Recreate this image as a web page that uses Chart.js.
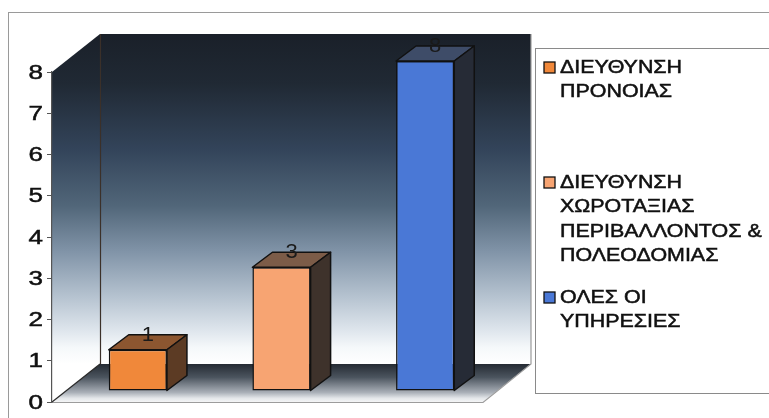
<!DOCTYPE html>
<html>
<head>
<meta charset="utf-8">
<script src="https://cdn.jsdelivr.net/npm/chart.js@4.4.1/dist/chart.umd.min.js"></script>
<style>
  html, body { margin: 0; padding: 0; background: #fff; }
  #wrap { width: 769px; height: 418px; }
</style>
</head>
<body>
<div id="wrap"><canvas id="chart" width="769" height="418"></canvas></div>
<script>
// Data
const seriesNames = [
  ['ΔΙΕΥΘΥΝΣΗ', 'ΠΡΟΝΟΙΑΣ'],
  ['ΔΙΕΥΘΥΝΣΗ', 'ΧΩΡΟΤΑΞΙΑΣ', 'ΠΕΡΙΒΑΛΛΟΝΤΟΣ &', 'ΠΟΛΕΟΔΟΜΙΑΣ'],
  ['ΟΛΕΣ ΟΙ', 'ΥΠΗΡΕΣΙΕΣ']
];
const seriesValues = [1, 3, 8];
const yMin = 0;
const yMax = 8;

// Bar face colours (front / top / side)
const frontColors = ['#f0883a', '#f7a472', '#4a78d6'];
const topColors = ['#8c5630', '#7c5c48', '#3e4c68'];
const sideColors = ['#5c3b24', '#3e322b', '#262b36'];

const FONT = "'Liberation Sans', Arial, sans-serif";
const WALL_DEPTH = { x: 48, y: 38 };
const BAR_SHIFT = { x: 14, y: -11 };
const BAR_DEPTH = { x: 20, y: 15 };

function poly(ctx, pts) {
  ctx.beginPath();
  ctx.moveTo(pts[0][0], pts[0][1]);
  for (let i = 1; i < pts.length; i++) ctx.lineTo(pts[i][0], pts[i][1]);
  ctx.closePath();
}

// text drawn a little wider (and heavier) than the plain font
function wideText(ctx, text, x, y, sx, weight) {
  ctx.save();
  ctx.translate(x, y);
  ctx.scale(sx, 1);
  ctx.fillText(text, 0, 0);
  if (weight) {
    ctx.strokeStyle = ctx.fillStyle;
    ctx.lineWidth = weight;
    ctx.strokeText(text, 0, 0);
  }
  ctx.restore();
}

// ===== Frame, walls and floor =====
const walls3d = {
  id: 'walls3d',
  beforeDraw(chart) {
    const { ctx, chartArea: a } = chart;
    const L = a.left, R = a.right, T = a.top, B = a.bottom;
    const dx = WALL_DEPTH.x, dy = WALL_DEPTH.y;

    ctx.save();
    // outer frame
    ctx.strokeStyle = '#9a9a9a';
    ctx.lineWidth = 1;
    ctx.strokeRect(8.5, 12.5, chart.width, chart.height);

    const grad = ctx.createLinearGradient(0, T - dy, 0, B - dy);
    grad.addColorStop(0, '#1a2029');
    grad.addColorStop(0.15, '#202934');
    grad.addColorStop(0.35, '#33445a');
    grad.addColorStop(0.52, '#516679');
    grad.addColorStop(0.66, '#8194a8');
    grad.addColorStop(0.8, '#b7c4d1');
    grad.addColorStop(0.9, '#dfe6ed');
    grad.addColorStop(0.95, '#f5f8fa');
    grad.addColorStop(1, '#ffffff');

    // back wall
    ctx.fillStyle = grad;
    ctx.fillRect(L + dx, T - dy, R - L, B - T);
    // left wall
    poly(ctx, [[L, T], [L + dx, T - dy], [L + dx, B - dy], [L, B]]);
    ctx.fill();

    // floor
    const fg = ctx.createLinearGradient(0, B - dy, 0, B);
    fg.addColorStop(0, '#252b33');
    fg.addColorStop(0.35, '#4b545e');
    fg.addColorStop(0.75, '#aab0b8');
    fg.addColorStop(0.9, '#e4e7ea');
    fg.addColorStop(1, '#f4f5f6');
    ctx.fillStyle = fg;
    poly(ctx, [[L, B], [R, B], [R + dx, B - dy], [L + dx, B - dy]]);
    ctx.fill();

    // edges
    ctx.lineWidth = 1.2;
    ctx.strokeStyle = '#3b3029';
    ctx.beginPath();
    ctx.moveTo(L + dx + 0.5, T - dy);
    ctx.lineTo(L + dx + 0.5, B - dy);
    ctx.stroke();
    ctx.strokeStyle = '#9c9c9c';
    ctx.beginPath();
    ctx.moveTo(L, B + 0.5);
    ctx.lineTo(R, B + 0.5);
    ctx.lineTo(R + dx, B - dy);
    ctx.lineTo(R + dx, T - dy);
    ctx.stroke();
    ctx.strokeStyle = '#2a2a2a';
    ctx.beginPath();
    ctx.moveTo(L, B);
    ctx.lineTo(L + dx, B - dy);
    ctx.stroke();
    ctx.restore();
  },
  beforeDatasetsDraw(chart) {
    // bars stand in the middle of the floor depth
    chart.ctx.save();
    chart.ctx.translate(BAR_SHIFT.x, BAR_SHIFT.y);
  },
  afterDatasetsDraw(chart) {
    const ctx = chart.ctx;
    const ddx = BAR_DEPTH.x, ddy = BAR_DEPTH.y;
    chart.data.datasets.forEach((ds, i) => {
      const bar = chart.getDatasetMeta(i).data[0];
      const { x, y, base, width } = bar.getProps(['x', 'y', 'base', 'width'], true);
      const l = x - width / 2, r = x + width / 2;
      ctx.lineWidth = 1.5;
      ctx.strokeStyle = '#111';
      ctx.lineJoin = 'round';
      // top face
      poly(ctx, [[l, y], [r, y], [r + ddx, y - ddy], [l + ddx, y - ddy]]);
      ctx.fillStyle = topColors[i];
      ctx.fill();
      ctx.stroke();
      // side face
      poly(ctx, [[r, y], [r + ddx, y - ddy], [r + ddx, base - ddy], [r, base]]);
      ctx.fillStyle = sideColors[i];
      ctx.fill();
      ctx.stroke();
      // value label
      ctx.fillStyle = '#1a1a1a';
      ctx.font = '20px ' + FONT;
      ctx.textAlign = 'center';
      ctx.textBaseline = 'bottom';
      wideText(ctx, String(ds.data[0]), x + ddx / 2, y - ddy / 2 + 3, 1.1);
    });
    ctx.restore();
  }
};

// ===== Y tick labels =====
const yLabels = {
  id: 'yLabels',
  afterDraw(chart) {
    const ctx = chart.ctx;
    const scale = chart.scales.y;
    ctx.save();
    ctx.fillStyle = '#111';
    ctx.font = '20px ' + FONT;
    ctx.textAlign = 'right';
    ctx.textBaseline = 'middle';
    scale.ticks.forEach(t => {
      wideText(ctx, String(t.value), 43, scale.getPixelForValue(t.value) + 1, 1.3, 0.5);
    });
    ctx.restore();
  }
};

// ===== Legend box on the right =====
const sideLegend = {
  id: 'sideLegend',
  afterDraw(chart) {
    const ctx = chart.ctx;
    const left = 535, top = 48, bottom = 393;
    const slot = (bottom - top) / seriesNames.length;
    ctx.save();
    ctx.strokeStyle = '#8a8a8a';
    ctx.lineWidth = 1;
    ctx.strokeRect(left + 0.5, top + 0.5, chart.width, bottom - top);
    ctx.font = '18px ' + FONT;
    ctx.textAlign = 'left';
    ctx.textBaseline = 'middle';
    seriesNames.forEach((lines, i) => {
      const y0 = top + i * slot;
      ctx.fillStyle = frontColors[i];
      ctx.fillRect(544, y0 + 14, 11, 11);
      ctx.strokeStyle = '#111';
      ctx.lineWidth = 1.3;
      ctx.strokeRect(544, y0 + 14, 11, 11);
      ctx.fillStyle = '#111';
      lines.forEach((t, j) => wideText(ctx, t, 560, y0 + 20 + j * 24.4, 1.19, 0.5));
    });
    ctx.restore();
  }
};

const ctx = document.getElementById('chart').getContext('2d');
new Chart(ctx, {
  type: 'bar',
  data: {
    labels: [''],
    datasets: seriesNames.map((name, i) => ({
      label: name.join(' '),
      data: [seriesValues[i]],
      backgroundColor: frontColors[i],
      borderColor: '#111',
      borderWidth: 1.5,
      borderSkipped: false,
      categoryPercentage: 1.0,
      barPercentage: 0.405
    }))
  },
  options: {
    responsive: false,
    animation: false,
    events: [],
    layout: { padding: { left: 8, right: 286, top: 72, bottom: 16 } },
    plugins: { legend: { display: false }, tooltip: { enabled: false } },
    scales: {
      x: { display: false },
      y: {
        min: yMin,
        max: yMax,
        afterFit(scale) { scale.width = 44; },
        ticks: { display: false, stepSize: 1 },
        grid: { drawOnChartArea: false, drawTicks: true, tickLength: 5, color: '#555' },
        border: { display: true, color: '#555', width: 1.2 }
      }
    }
  },
  plugins: [walls3d, yLabels, sideLegend]
});
</script>
</body>
</html>
